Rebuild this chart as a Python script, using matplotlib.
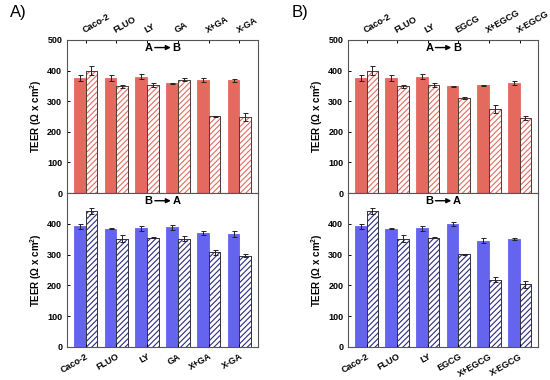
import matplotlib
matplotlib.use("Agg")
import matplotlib.pyplot as plt
import numpy as np

plt.rcParams['font.family'] = ['Liberation Sans', 'DejaVu Sans']
plt.rcParams['mathtext.fontset'] = 'custom'
plt.rcParams['mathtext.bf'] = 'Liberation Sans:bold'
plt.rcParams['hatch.linewidth'] = 0.8

cats_A = ["Caco-2", "FLUO", "LY", "GA", "X+GA", "X-GA"]
cats_B = ["Caco-2", "FLUO", "LY", "EGCG", "X+EGCG", "X-EGCG"]

# Panel A, apical->basolateral
A_ab_solid = [375, 377, 380, 358, 370, 368]
A_ab_solid_err = [10, 10, 8, 2, 7, 4]
A_ab_hatch = [400, 348, 353, 370, 250, 248]
A_ab_hatch_err = [15, 6, 7, 5, 3, 12]
# Panel A, basolateral->apical
A_ba_solid = [392, 384, 386, 389, 370, 366]
A_ba_solid_err = [8, 2, 8, 8, 6, 10]
A_ba_hatch = [443, 352, 355, 352, 308, 297]
A_ba_hatch_err = [10, 12, 1, 8, 8, 4]

# Panel B, apical->basolateral
B_ab_solid = [375, 377, 380, 349, 352, 359]
B_ab_solid_err = [10, 10, 8, 2, 2, 6]
B_ab_hatch = [400, 348, 353, 311, 273, 244]
B_ab_hatch_err = [15, 6, 7, 3, 13, 7]
# Panel B, basolateral->apical
B_ba_solid = [392, 384, 386, 400, 345, 350]
B_ba_solid_err = [8, 2, 8, 6, 8, 3]
B_ba_hatch = [443, 352, 355, 301, 218, 203]
B_ba_hatch_err = [10, 12, 1, 1, 8, 10]

red = "#E46A60"
blue = "#6464EE"

fig = plt.figure(figsize=(5.5, 3.8), dpi=100)

def draw(ax, cats, solid, serr, hatch, herr, color, hcolor, label, top):
    x = np.arange(len(cats))
    w = 0.38
    ekw = dict(ecolor="#222222", elinewidth=0.7, capsize=1.8, capthick=0.7)
    ax.bar(x - w / 2, solid, w, color=color, edgecolor=color, linewidth=0.6,
           yerr=serr, error_kw=ekw)
    ax.bar(x + w / 2, hatch, w, color="white", edgecolor=hcolor, hatch="//////", linewidth=0.6,
           yerr=herr, error_kw=ekw)
    ax.bar(x + w / 2, hatch, w, color="none", edgecolor="#333333", linewidth=0.6)
    ax.set_xlim(-0.6, 5.6)
    ax.set_ylim(0, 500)
    ax.set_xticks(x)
    ax.tick_params(axis="both", direction="in", length=2.5, width=0.7, labelsize=6.5)
    for lbl in ax.get_yticklabels():
        lbl.set_fontweight("bold")
    ax.set_ylabel("TEER (Ω x cm$^\\mathbf{2}$)", fontsize=7, fontweight="bold", labelpad=2)
    for s in ax.spines.values():
        s.set_linewidth(0.8)
        s.set_color("#555555")
    # direction label
    cx = 2.5
    ax.text(cx - 0.45, 475, label[0], ha="center", va="center", fontsize=8, fontweight="bold")
    ax.text(cx + 0.45, 475, label[1], ha="center", va="center", fontsize=8, fontweight="bold")
    ax.annotate("", xy=(cx + 0.27, 475), xytext=(cx - 0.25, 475),
                arrowprops=dict(arrowstyle="-|>", color="black", lw=1.0, mutation_scale=7,
                                shrinkA=0, shrinkB=0))
    if top:
        ax.set_yticks([0, 100, 200, 300, 400, 500])
        ax.xaxis.tick_top()
        ax.set_xticklabels(cats, rotation=30, fontsize=6.5, fontweight="bold",
                           ha="left", va="bottom", rotation_mode="anchor")
        for lbl in ax.get_xticklabels():
            lbl.set_x(lbl.get_position()[0])
    else:
        ax.set_yticks([0, 100, 200, 300, 400])
        ax.set_xticklabels(cats, rotation=30, fontsize=6.5, fontweight="bold",
                           ha="right", va="top", rotation_mode="anchor")

top_y0, top_h = 0.492, 0.403
bot_y0, bot_h = 0.087, 0.405

axA1 = fig.add_axes([0.122, top_y0, 0.347, top_h])
axA2 = fig.add_axes([0.122, bot_y0, 0.347, bot_h])
axB1 = fig.add_axes([0.633, top_y0, 0.345, top_h])
axB2 = fig.add_axes([0.633, bot_y0, 0.345, bot_h])

draw(axA1, cats_A, A_ab_solid, A_ab_solid_err, A_ab_hatch, A_ab_hatch_err, red, red, ("A", "B"), True)
draw(axA2, cats_A, A_ba_solid, A_ba_solid_err, A_ba_hatch, A_ba_hatch_err, blue, "#2a2a80", ("B", "A"), False)
draw(axB1, cats_B, B_ab_solid, B_ab_solid_err, B_ab_hatch, B_ab_hatch_err, red, red, ("A", "B"), True)
draw(axB2, cats_B, B_ba_solid, B_ba_solid_err, B_ba_hatch, B_ba_hatch_err, blue, "#2a2a80", ("B", "A"), False)

fig.text(0.018, 0.955, "A)", fontsize=12)
fig.text(0.53, 0.955, "B)", fontsize=12)

fig.savefig("out.png", dpi=100)
